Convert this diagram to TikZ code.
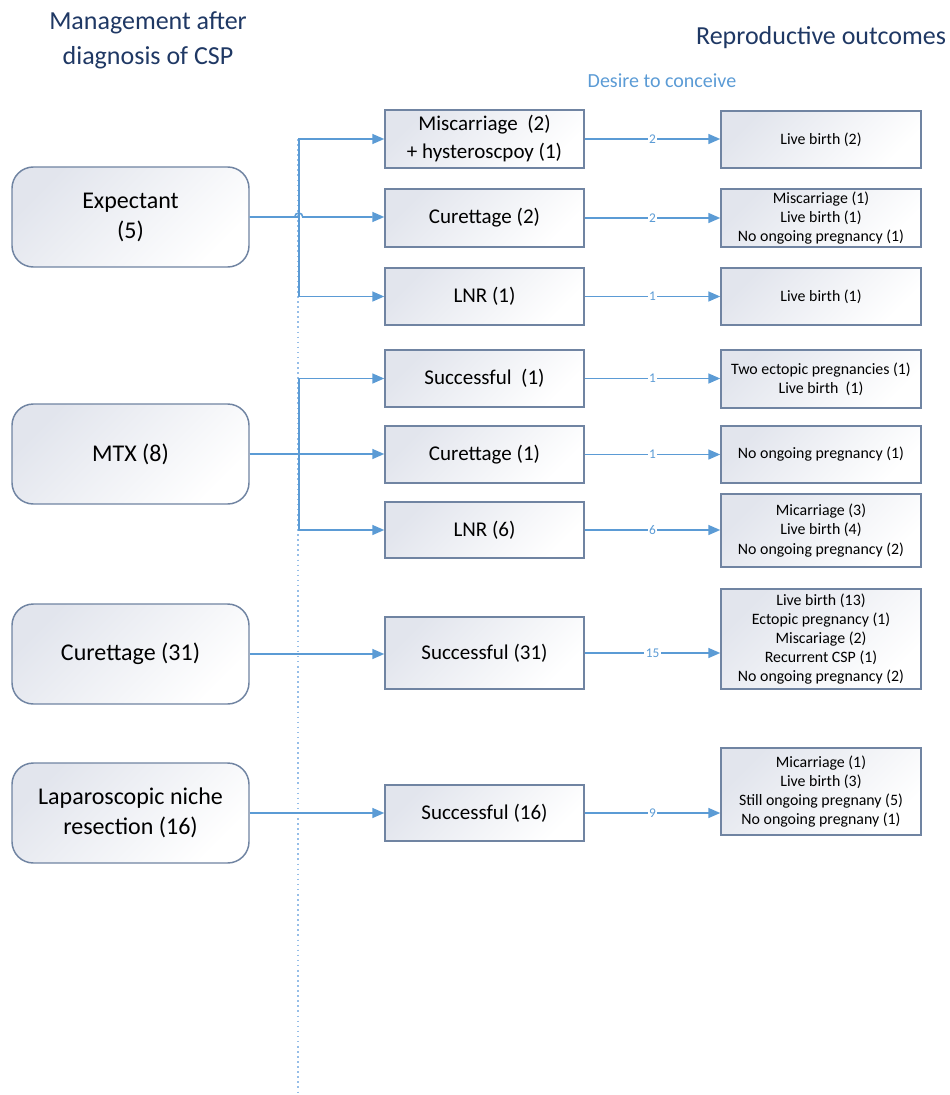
\documentclass[tikz,border=0pt]{standalone}
\usepackage{fontspec}
\setmainfont{Carlito}
\usetikzlibrary{arrows.meta}
\definecolor{linkblue}{RGB}{91,155,213}
\definecolor{dotblue}{RGB}{150,190,232}
\definecolor{boxedge}{RGB}{112,132,162}
\definecolor{boxshade}{RGB}{226,229,237}
\definecolor{titlenavy}{RGB}{31,56,100}

\tikzset{
  mgmt/.style={draw=boxedge,line width=1.1pt,rounded corners=16pt,
    top color=boxshade,bottom color=white,shading angle=45,
    minimum width=177.75pt,minimum height=75pt,inner sep=0pt,
    align=center,font=\fontsize{18}{22.5}\selectfont},
  midbox/.style={draw=boxedge,line width=1.1pt,
    top color=boxshade,bottom color=white,shading angle=45,
    minimum width=149.25pt,inner sep=0pt,
    align=center,font=\fontsize{15.75}{21}\selectfont},
  outbox/.style={draw=boxedge,line width=1.1pt,
    top color=boxshade,bottom color=white,shading angle=45,
    minimum width=150pt,inner sep=0pt,
    align=center,font=\fontsize{11.9}{14.3}\selectfont},
  conn/.style={linkblue,line width=1.2pt,-{Triangle[length=9pt,width=7.5pt]}},
  numlab/.style={fill=white,text=linkblue,inner sep=1pt,
    font=\fontsize{10}{10}\selectfont},
  dotline/.style={dotblue,line width=1.1pt,dash pattern=on 1.2pt off 2.6pt}
}

\begin{document}
\begin{tikzpicture}[x=0.75pt,y=-0.75pt]
  \useasboundingbox (0,0) rectangle (949,1095);

  % headings
  \node[titlenavy,align=center,font=\fontsize{19.5}{26}\selectfont]
    (headL) at (148,40) {Management after\\diagnosis of CSP};
  \node[titlenavy,font=\fontsize{19.5}{26}\selectfont]
    (headR) at (821,38) {Reproductive outcomes};
  \node[linkblue,font=\fontsize{15}{18}\selectfont]
    (desire) at (662,81) {Desire to conceive};

  % dotted separator
  \coordinate (septop) at (298,139);
  \coordinate (sepbot) at (298,1095);
  \draw[dotline] (septop) -- (sepbot);

  % management after diagnosis
  \node[mgmt] (exp) at (130.5,217) {Expectant\\(5)};
  \node[mgmt] (mtx) at (130.5,454) {MTX (8)};
  \node[mgmt] (cur) at (130.5,654) {Curettage (31)};
  \node[mgmt] (lap) at (130.5,813) {Laparoscopic niche\\resection (16)};

  % second step
  \node[midbox,minimum height=43.5pt]  (m1) at (484.5,139)   {Miscarriage\ \ (2)\\+ hysteroscpoy (1)};
  \node[midbox,minimum height=43.5pt]  (m2) at (484.5,218)   {Curettage (2)};
  \node[midbox,minimum height=42.75pt] (m3) at (484.5,296.5) {LNR (1)};
  \node[midbox,minimum height=42.75pt] (m4) at (484.5,378.5) {Successful\ \ (1)};
  \node[midbox,minimum height=42.75pt] (m5) at (484.5,454.5) {Curettage (1)};
  \node[midbox,minimum height=42pt]    (m6) at (484.5,530)   {LNR (6)};
  \node[midbox,minimum height=54pt]    (m7) at (484.5,653)   {Successful (31)};
  \node[midbox,minimum height=42pt]    (m8) at (484.5,813)   {Successful (16)};

  % reproductive outcomes
  \node[outbox,minimum height=42.75pt] (r1) at (821,139.5) {Live birth (2)};
  \node[outbox,minimum height=43.5pt]  (r2) at (821,218)   {Miscarriage (1)\\Live birth (1)\\No ongoing pregnancy (1)};
  \node[outbox,minimum height=42.75pt] (r3) at (821,296.5) {Live birth (1)};
  \node[outbox,minimum height=43.5pt]  (r4) at (821,379)   {Two ectopic pregnancies (1)\\Live birth\ \ (1)};
  \node[outbox,minimum height=42.75pt] (r5) at (821,454.5) {No ongoing pregnancy (1)};
  \node[outbox,minimum height=54.75pt] (r6) at (821,530.5) {Micarriage (3)\\Live birth (4)\\No ongoing pregnancy (2)};
  \node[outbox,minimum height=75pt]    (r7) at (821,639)   {Live birth (13)\\Ectopic pregnancy (1)\\Miscariage (2)\\Recurrent CSP (1)\\No ongoing pregnancy (2)};
  \node[outbox,minimum height=65.25pt] (r8) at (821,791.5) {Micarriage (1)\\Live birth (3)\\Still ongoing pregnany (5)\\No ongoing pregnany (1)};

  % branches from expectant and MTX
  \draw[conn] (exp.east) -- ++(49,0) |- (m1.west);
  \draw[conn] (exp.east) -- ++(49,0) |- (m3.west);
  \draw[conn] (exp.east) -- ++(45,0) arc[start angle=180,end angle=360,radius=4]
    -- (exp.east -| m2.west);
  \draw[conn] (mtx.east) -- ++(49,0) |- (m4.west);
  \draw[conn] (mtx.east) -- (mtx.east -| m5.west);
  \draw[conn] (mtx.east) -- ++(49,0) |- (m6.west);
  \draw[conn] (cur.east) -- (cur.east -| m7.west);
  \draw[conn] (lap.east) -- (lap.east -| m8.west);

  % desire to conceive counts
  \foreach \m/\r/\n in {m1/r1/2,m2/r2/2,m3/r3/1,m4/r4/1,m5/r5/1,m6/r6/6,m7/r7/15,m8/r8/9}
    \draw[conn] (\m.east) -- node[numlab] (n\m) {\n} (\m.east -| \r.west);
\end{tikzpicture}
\end{document}
